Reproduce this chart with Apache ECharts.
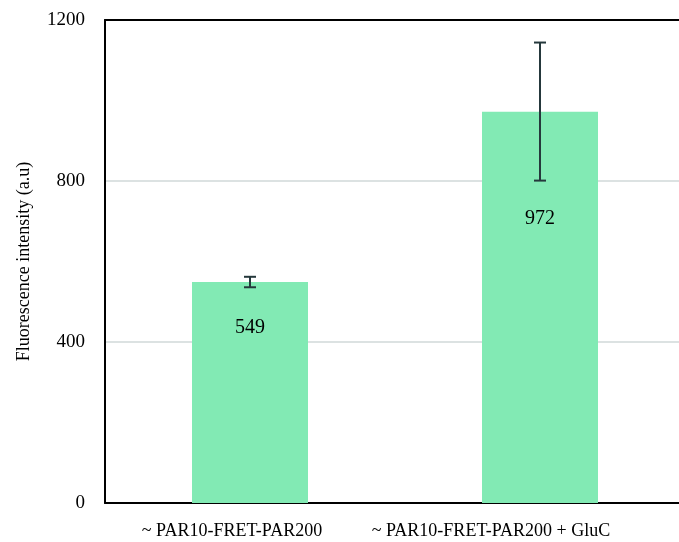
<!DOCTYPE html>
<html>
<head>
<meta charset="utf-8">
<script src="https://cdn.jsdelivr.net/npm/echarts@6/dist/echarts.min.js"></script>
<style>html,body{margin:0;padding:0;background:#fff;overflow:hidden}#c{width:689px;height:542px}</style>
</head>
<body>
<div id="c"></div>
<script>
var categories = ['~ PAR10-FRET-PAR200', '~ PAR10-FRET-PAR200 + GluC'];
var values = [549, 972];
var errLow = [536, 801];
var errHigh = [562, 1144];
var yTicks = [0, 400, 800, 1200];

var FONT = '"Liberation Serif", "DejaVu Serif", serif';
var labelDist = [36, 97];

var chart = echarts.init(document.getElementById('c'));
var barData = values.map(function (v, i) {
  return { value: v, label: { distance: labelDist[i] } };
});
var errData = values.map(function (v, i) { return [i, errLow[i], errHigh[i]]; });

chart.setOption({
  animation: false,
  backgroundColor: '#fff',
  grid: { left: 105, top: 20, bottom: 39, right: 4 },
  xAxis: [{
    type: 'category',
    data: categories,
    axisLine: { lineStyle: { color: '#000', width: 2 } },
    axisTick: { show: false },
    axisLabel: {
      margin: 19,
      interval: 0,
      formatter: function (v, i) { return i === 0 ? '{a|' + v + '}' : '{b|' + v + '}'; },
      rich: {
        a: { fontFamily: FONT, fontSize: 18, color: '#000', padding: [0, 36, 0, 0] },
        b: { fontFamily: FONT, fontSize: 18, color: '#000', padding: [0, 98, 0, 0] }
      }
    }
  }, {
    type: 'category',
    position: 'top',
    data: categories,
    axisLine: { lineStyle: { color: '#000', width: 2 } },
    axisTick: { show: false },
    axisLabel: { show: false }
  }],
  yAxis: {
    type: 'value',
    min: yTicks[0],
    max: yTicks[yTicks.length - 1],
    interval: 400,
    name: 'Fluorescence intensity (a.u)',
    nameLocation: 'middle',
    nameGap: 72,
    nameTextStyle: { fontFamily: FONT, fontSize: 18, color: '#000' },
    axisLine: { show: true, lineStyle: { color: '#000', width: 2 } },
    axisTick: { show: false },
    axisLabel: { margin: 20, fontFamily: FONT, fontSize: 19, color: '#000', formatter: function (v) { return String(v); } },
    splitLine: { lineStyle: { color: '#dce2e2', width: 2 } }
  },
  series: [{
    type: 'bar',
    data: barData,
    barWidth: '40%',
    itemStyle: { color: '#82eab4' },
    label: {
      show: true,
      position: 'insideTop',
      fontFamily: FONT,
      fontSize: 20,
      color: '#000'
    }
  }, {
    type: 'custom',
    data: errData,
    z: 10,
    renderItem: function (params, api) {
      var x = api.value(0);
      var lo = api.coord([x, api.value(1)]);
      var hi = api.coord([x, api.value(2)]);
      var cx = lo[0];
      var hw = 6;
      var st = { stroke: '#25383c', lineWidth: 2 };
      return {
        type: 'group',
        children: [
          { type: 'line', shape: { x1: cx, y1: hi[1], x2: cx, y2: lo[1] }, style: st },
          { type: 'line', shape: { x1: cx - hw, y1: hi[1], x2: cx + hw, y2: hi[1] }, style: st },
          { type: 'line', shape: { x1: cx - hw, y1: lo[1], x2: cx + hw, y2: lo[1] }, style: st }
        ]
      };
    }
  }]
});
</script>
</body>
</html>
